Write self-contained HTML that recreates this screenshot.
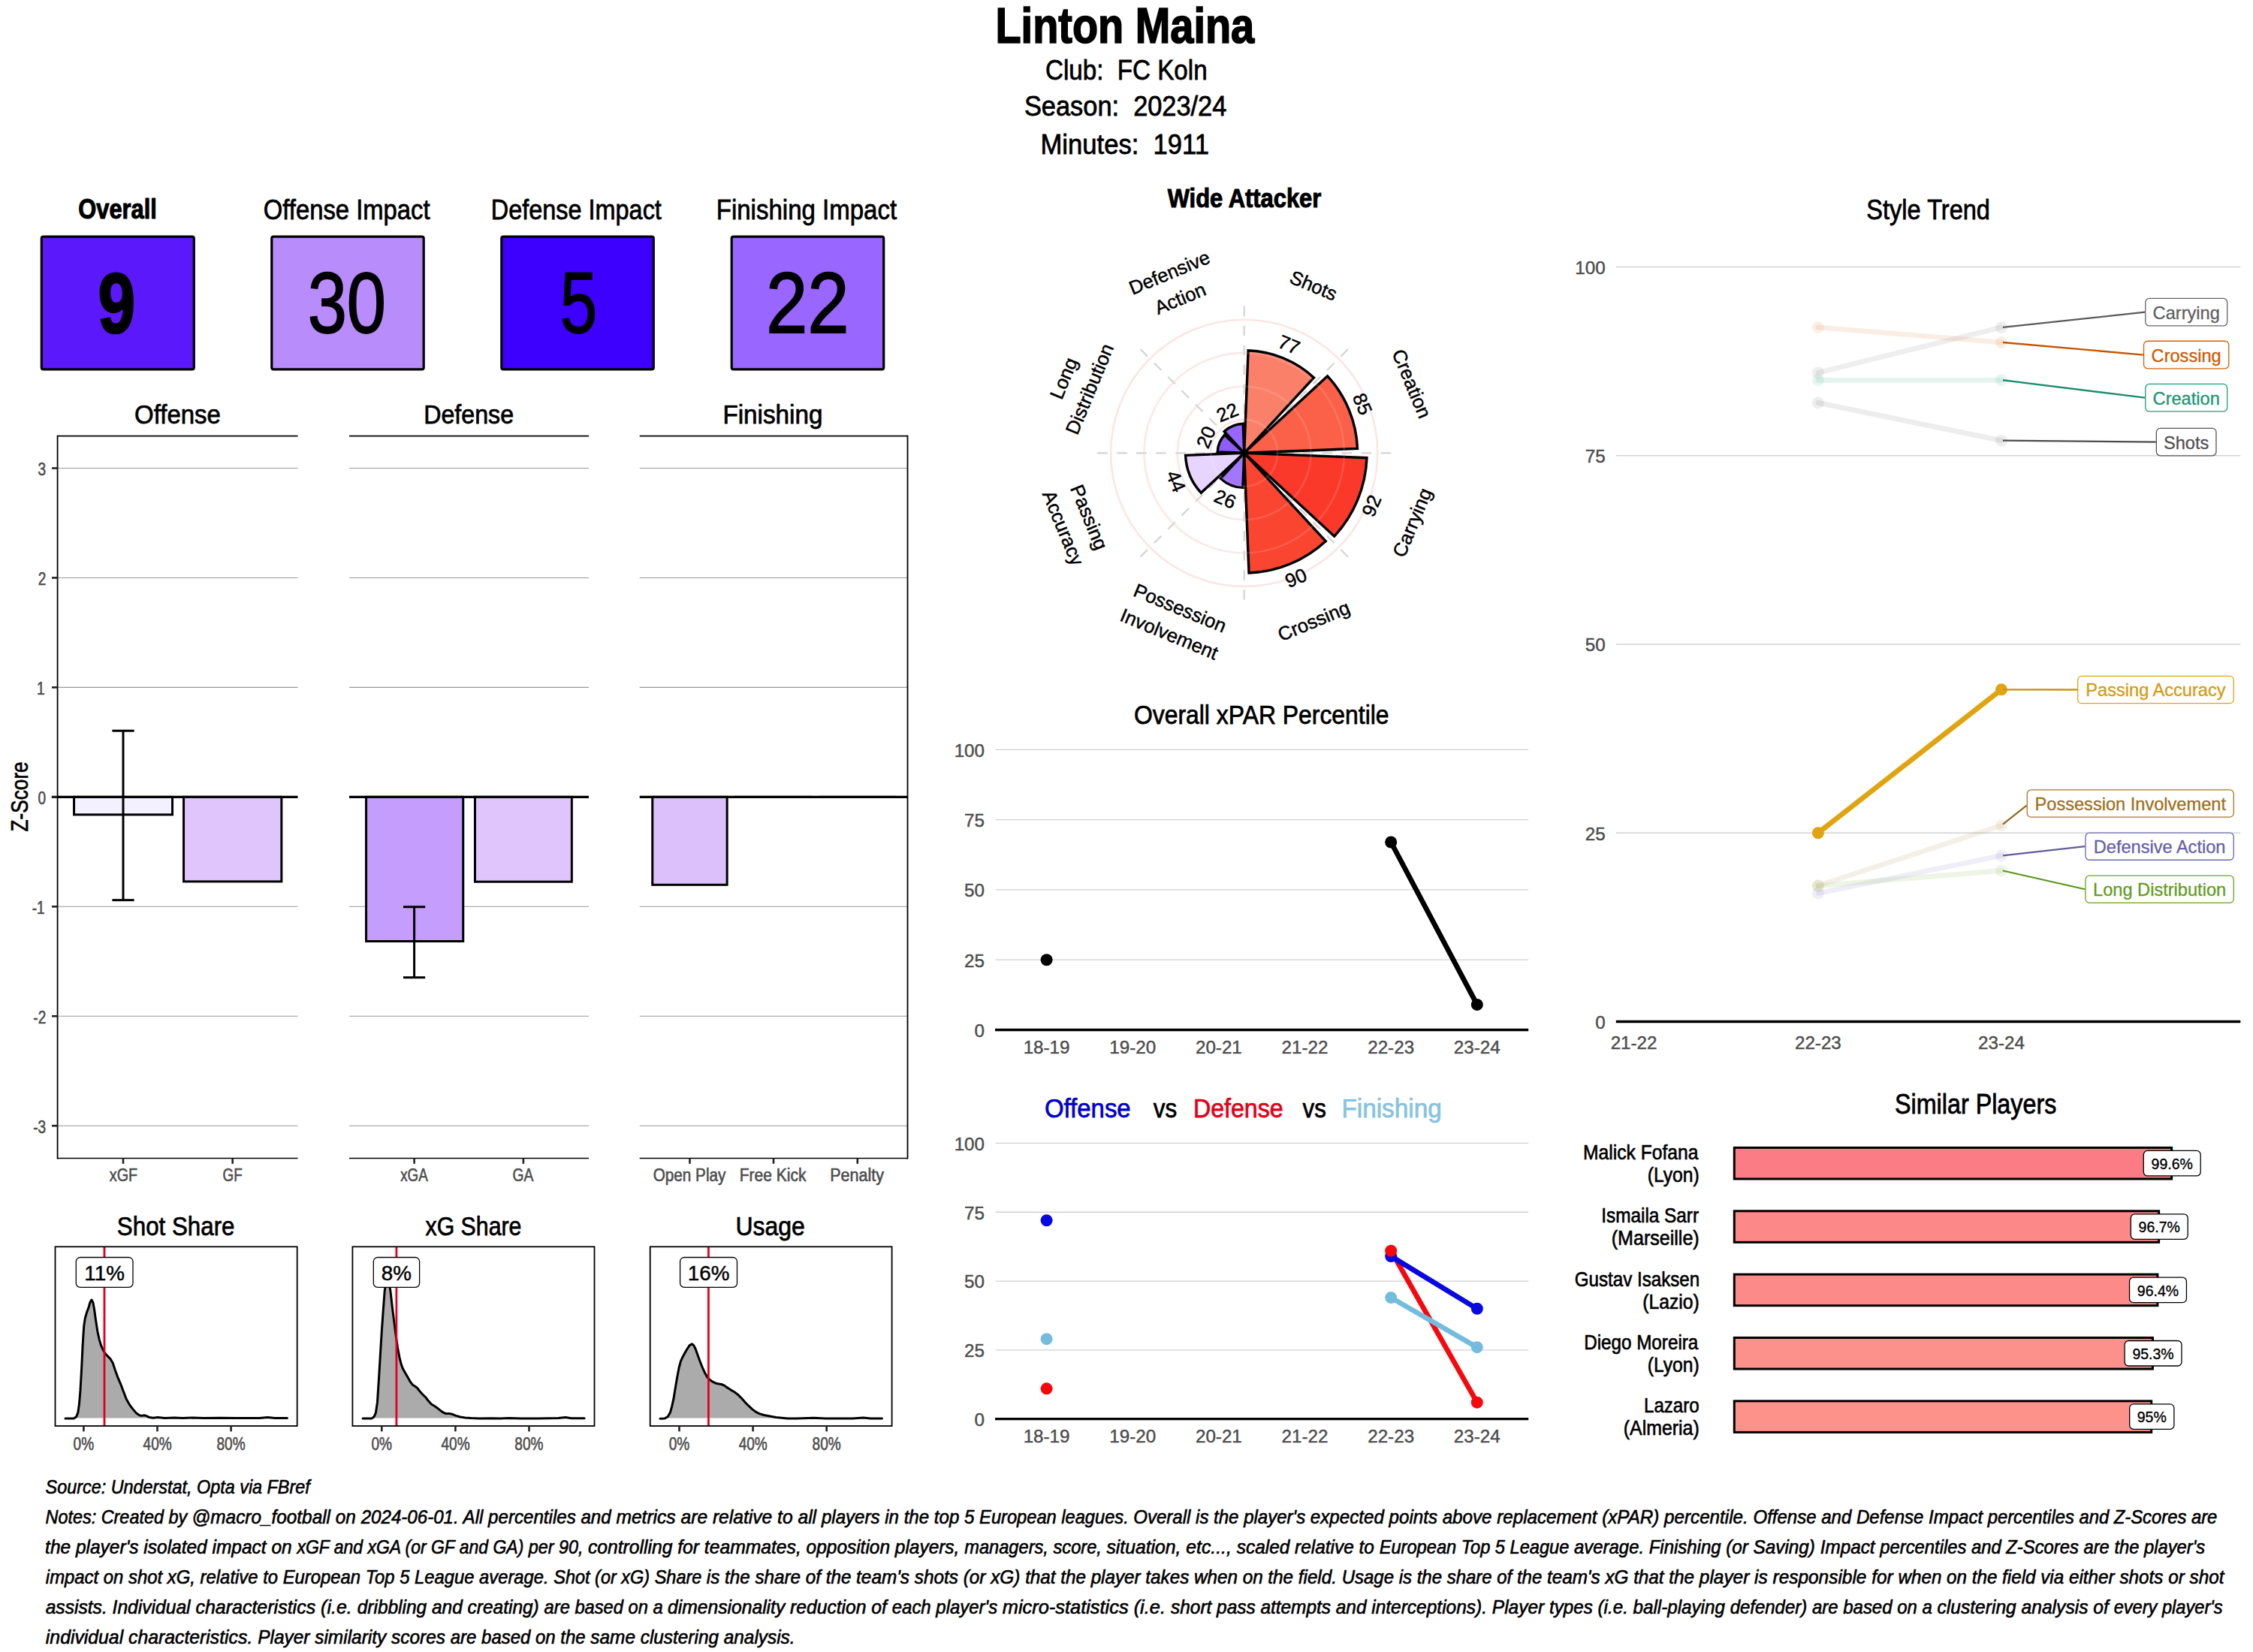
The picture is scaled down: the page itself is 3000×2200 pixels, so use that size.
<!DOCTYPE html>
<html><head><meta charset="utf-8"><title>Linton Maina</title>
<style>html,body{margin:0;padding:0;background:#fff}svg{display:block}text{font-family:"Liberation Sans",sans-serif;white-space:pre}</style>
</head><body>
<svg width="3000" height="2200" viewBox="0 0 3000 2200">
<rect width="3000" height="2200" fill="#fff"/>
<text x="1325.47" y="57.16" font-size="66.46" textLength="344.74" lengthAdjust="spacingAndGlyphs" fill="#000" stroke="#000" stroke-width="1.68" font-weight="bold">Linton Maina</text>
<text x="1392.03" y="105.61" font-size="36.67" textLength="215.56" lengthAdjust="spacingAndGlyphs" fill="#000" stroke="#000" stroke-width="0.77">Club:  FC Koln</text>
<text x="1363.94" y="154.11" font-size="36.67" textLength="269.42" lengthAdjust="spacingAndGlyphs" fill="#000" stroke="#000" stroke-width="0.77">Season:  2023/24</text>
<text x="1385.53" y="205.21" font-size="36.67" textLength="224.55" lengthAdjust="spacingAndGlyphs" fill="#000" stroke="#000" stroke-width="0.77">Minutes:  1911</text>
<text x="1554.72" y="276.48" font-size="35.27" textLength="204.54" lengthAdjust="spacingAndGlyphs" fill="#000" stroke="#000" stroke-width="1.04" font-weight="bold">Wide Attacker</text>
<rect x="55.30" y="315.10" width="203.00" height="176.80" fill="#5B18FB" stroke="#000" stroke-width="3.2" rx="2.5"/>
<text x="130.38" y="443.29" font-size="112.46" textLength="49.74" lengthAdjust="spacingAndGlyphs" fill="#000" stroke="#000" stroke-width="2.63" font-weight="bold">9</text>
<text x="104.29" y="291.47" font-size="36.26" textLength="104.57" lengthAdjust="spacingAndGlyphs" fill="#000" stroke="#000" stroke-width="1.06" font-weight="bold">Overall</text>
<rect x="361.80" y="315.10" width="202.40" height="176.80" fill="#B88CFB" stroke="#000" stroke-width="3.2" rx="2.5"/>
<text x="409.66" y="442.92" font-size="114.87" textLength="104.39" lengthAdjust="spacingAndGlyphs" fill="#000" stroke="#000" stroke-width="1.77">30</text>
<text x="350.83" y="291.61" font-size="36.67" textLength="221.75" lengthAdjust="spacingAndGlyphs" fill="#000" stroke="#000" stroke-width="0.77">Offense Impact</text>
<rect x="667.80" y="315.10" width="202.50" height="176.80" fill="#3D00FF" stroke="#000" stroke-width="3.2" rx="2.5"/>
<text x="745.72" y="442.92" font-size="114.87" textLength="49.57" lengthAdjust="spacingAndGlyphs" fill="#000" stroke="#000" stroke-width="1.77">5</text>
<text x="653.71" y="291.61" font-size="36.67" textLength="227.18" lengthAdjust="spacingAndGlyphs" fill="#000" stroke="#000" stroke-width="0.77">Defense Impact</text>
<rect x="974.20" y="315.10" width="202.50" height="176.80" fill="#9966FF" stroke="#000" stroke-width="3.2" rx="2.5"/>
<text x="1019.90" y="442.92" font-size="114.87" textLength="110.83" lengthAdjust="spacingAndGlyphs" fill="#000" stroke="#000" stroke-width="1.77">22</text>
<text x="953.76" y="291.61" font-size="36.67" textLength="240.33" lengthAdjust="spacingAndGlyphs" fill="#000" stroke="#000" stroke-width="0.77">Finishing Impact</text>
<line x1="76.60" y1="623.50" x2="396.50" y2="623.50" stroke="#999999" stroke-width="1.1"/>
<line x1="76.60" y1="769.45" x2="396.50" y2="769.45" stroke="#999999" stroke-width="1.1"/>
<line x1="76.60" y1="915.40" x2="396.50" y2="915.40" stroke="#999999" stroke-width="1.1"/>
<line x1="76.60" y1="1207.30" x2="396.50" y2="1207.30" stroke="#999999" stroke-width="1.1"/>
<line x1="76.60" y1="1353.25" x2="396.50" y2="1353.25" stroke="#999999" stroke-width="1.1"/>
<line x1="76.60" y1="1499.20" x2="396.50" y2="1499.20" stroke="#999999" stroke-width="1.1"/>
<line x1="465.00" y1="623.50" x2="784.00" y2="623.50" stroke="#999999" stroke-width="1.1"/>
<line x1="465.00" y1="769.45" x2="784.00" y2="769.45" stroke="#999999" stroke-width="1.1"/>
<line x1="465.00" y1="915.40" x2="784.00" y2="915.40" stroke="#999999" stroke-width="1.1"/>
<line x1="465.00" y1="1207.30" x2="784.00" y2="1207.30" stroke="#999999" stroke-width="1.1"/>
<line x1="465.00" y1="1353.25" x2="784.00" y2="1353.25" stroke="#999999" stroke-width="1.1"/>
<line x1="465.00" y1="1499.20" x2="784.00" y2="1499.20" stroke="#999999" stroke-width="1.1"/>
<line x1="851.70" y1="623.50" x2="1208.50" y2="623.50" stroke="#999999" stroke-width="1.1"/>
<line x1="851.70" y1="769.45" x2="1208.50" y2="769.45" stroke="#999999" stroke-width="1.1"/>
<line x1="851.70" y1="915.40" x2="1208.50" y2="915.40" stroke="#999999" stroke-width="1.1"/>
<line x1="851.70" y1="1207.30" x2="1208.50" y2="1207.30" stroke="#999999" stroke-width="1.1"/>
<line x1="851.70" y1="1353.25" x2="1208.50" y2="1353.25" stroke="#999999" stroke-width="1.1"/>
<line x1="851.70" y1="1499.20" x2="1208.50" y2="1499.20" stroke="#999999" stroke-width="1.1"/>
<rect x="98.55" y="1061.35" width="131.00" height="23.56" fill="#F3F0FF" stroke="#000" stroke-width="3"/>
<rect x="244.55" y="1061.35" width="130.30" height="112.59" fill="#DFC5FC" stroke="#000" stroke-width="3"/>
<rect x="487.55" y="1061.35" width="129.20" height="192.13" fill="#C59DFC" stroke="#000" stroke-width="3"/>
<rect x="632.45" y="1061.35" width="128.90" height="112.88" fill="#DFC5FC" stroke="#000" stroke-width="3"/>
<rect x="868.75" y="1061.35" width="99.40" height="116.97" fill="#DBC0FB" stroke="#000" stroke-width="3"/>
<rect x="979.75" y="1061.35" width="99.50" height="0.01" fill="#fff" stroke="#000" stroke-width="3"/>
<rect x="1091.75" y="1061.35" width="99.50" height="0.01" fill="#fff" stroke="#000" stroke-width="3"/>
<line x1="164.00" y1="973.20" x2="164.00" y2="1198.69" stroke="#000" stroke-width="3"/>
<line x1="149.40" y1="973.20" x2="178.60" y2="973.20" stroke="#000" stroke-width="3"/>
<line x1="149.40" y1="1198.69" x2="178.60" y2="1198.69" stroke="#000" stroke-width="3"/>
<line x1="551.60" y1="1207.74" x2="551.60" y2="1301.73" stroke="#000" stroke-width="3"/>
<line x1="537.00" y1="1207.74" x2="566.20" y2="1207.74" stroke="#000" stroke-width="3"/>
<line x1="537.00" y1="1301.73" x2="566.20" y2="1301.73" stroke="#000" stroke-width="3"/>
<line x1="68.80" y1="1061.35" x2="396.50" y2="1061.35" stroke="#000" stroke-width="3.4"/>
<line x1="76.60" y1="580.70" x2="396.50" y2="580.70" stroke="#000" stroke-width="1.7"/>
<line x1="76.60" y1="1542.50" x2="396.50" y2="1542.50" stroke="#000" stroke-width="1.7"/>
<line x1="465.00" y1="1061.35" x2="784.00" y2="1061.35" stroke="#000" stroke-width="3.4"/>
<line x1="465.00" y1="580.70" x2="784.00" y2="580.70" stroke="#000" stroke-width="1.7"/>
<line x1="465.00" y1="1542.50" x2="784.00" y2="1542.50" stroke="#000" stroke-width="1.7"/>
<line x1="851.70" y1="1061.35" x2="1208.50" y2="1061.35" stroke="#000" stroke-width="3.4"/>
<line x1="851.70" y1="580.70" x2="1208.50" y2="580.70" stroke="#000" stroke-width="1.7"/>
<line x1="851.70" y1="1542.50" x2="1208.50" y2="1542.50" stroke="#000" stroke-width="1.7"/>
<line x1="76.60" y1="579.80" x2="76.60" y2="1543.40" stroke="#000" stroke-width="1.8"/>
<line x1="1208.50" y1="579.80" x2="1208.50" y2="1543.40" stroke="#000" stroke-width="1.8"/>
<text x="179.11" y="564.33" font-size="34.53" textLength="114.77" lengthAdjust="spacingAndGlyphs" fill="#000" stroke="#000" stroke-width="0.75">Offense</text>
<text x="564.22" y="564.33" font-size="34.53" textLength="119.85" lengthAdjust="spacingAndGlyphs" fill="#000" stroke="#000" stroke-width="0.75">Defense</text>
<text x="962.43" y="564.33" font-size="34.53" textLength="133.05" lengthAdjust="spacingAndGlyphs" fill="#000" stroke="#000" stroke-width="0.75">Finishing</text>
<line x1="69.00" y1="623.50" x2="76.60" y2="623.50" stroke="#222" stroke-width="2.6"/>
<text x="50.53" y="632.80" font-size="23.82" textLength="10.60" lengthAdjust="spacingAndGlyphs" fill="#4D4D4D" stroke="#4D4D4D" stroke-width="0.61">3</text>
<line x1="69.00" y1="769.45" x2="76.60" y2="769.45" stroke="#222" stroke-width="2.6"/>
<text x="50.67" y="778.75" font-size="23.82" textLength="10.60" lengthAdjust="spacingAndGlyphs" fill="#4D4D4D" stroke="#4D4D4D" stroke-width="0.61">2</text>
<line x1="69.00" y1="915.40" x2="76.60" y2="915.40" stroke="#222" stroke-width="2.6"/>
<text x="49.02" y="924.70" font-size="23.82" textLength="10.60" lengthAdjust="spacingAndGlyphs" fill="#4D4D4D" stroke="#4D4D4D" stroke-width="0.61">1</text>
<line x1="69.00" y1="1061.35" x2="76.60" y2="1061.35" stroke="#222" stroke-width="2.6"/>
<text x="50.43" y="1070.65" font-size="23.82" textLength="10.60" lengthAdjust="spacingAndGlyphs" fill="#4D4D4D" stroke="#4D4D4D" stroke-width="0.61">0</text>
<line x1="69.00" y1="1207.30" x2="76.60" y2="1207.30" stroke="#222" stroke-width="2.6"/>
<text x="42.69" y="1216.60" font-size="23.82" textLength="16.95" lengthAdjust="spacingAndGlyphs" fill="#4D4D4D" stroke="#4D4D4D" stroke-width="0.61">-1</text>
<line x1="69.00" y1="1353.25" x2="76.60" y2="1353.25" stroke="#222" stroke-width="2.6"/>
<text x="44.33" y="1362.55" font-size="23.82" textLength="16.95" lengthAdjust="spacingAndGlyphs" fill="#4D4D4D" stroke="#4D4D4D" stroke-width="0.61">-2</text>
<line x1="69.00" y1="1499.20" x2="76.60" y2="1499.20" stroke="#222" stroke-width="2.6"/>
<text x="44.19" y="1508.50" font-size="23.82" textLength="16.95" lengthAdjust="spacingAndGlyphs" fill="#4D4D4D" stroke="#4D4D4D" stroke-width="0.61">-3</text>
<line x1="164.00" y1="1542.50" x2="164.00" y2="1549.80" stroke="#222" stroke-width="2.6"/>
<text x="145.76" y="1573.40" font-size="23.54" textLength="37.36" lengthAdjust="spacingAndGlyphs" fill="#4D4D4D" stroke="#4D4D4D" stroke-width="0.61">xGF</text>
<line x1="309.70" y1="1542.50" x2="309.70" y2="1549.80" stroke="#222" stroke-width="2.6"/>
<text x="296.54" y="1573.40" font-size="23.54" textLength="26.15" lengthAdjust="spacingAndGlyphs" fill="#4D4D4D" stroke="#4D4D4D" stroke-width="0.61">GF</text>
<line x1="551.60" y1="1542.50" x2="551.60" y2="1549.80" stroke="#222" stroke-width="2.6"/>
<text x="533.19" y="1573.40" font-size="23.54" textLength="36.62" lengthAdjust="spacingAndGlyphs" fill="#4D4D4D" stroke="#4D4D4D" stroke-width="0.61">xGA</text>
<line x1="696.90" y1="1542.50" x2="696.90" y2="1549.80" stroke="#222" stroke-width="2.6"/>
<text x="682.54" y="1573.40" font-size="23.54" textLength="27.80" lengthAdjust="spacingAndGlyphs" fill="#4D4D4D" stroke="#4D4D4D" stroke-width="0.61">GA</text>
<line x1="918.50" y1="1542.50" x2="918.50" y2="1549.80" stroke="#222" stroke-width="2.6"/>
<text x="869.72" y="1573.40" font-size="23.54" textLength="96.62" lengthAdjust="spacingAndGlyphs" fill="#4D4D4D" stroke="#4D4D4D" stroke-width="0.61">Open Play</text>
<line x1="1030.00" y1="1542.50" x2="1030.00" y2="1549.80" stroke="#222" stroke-width="2.6"/>
<text x="984.77" y="1573.40" font-size="23.54" textLength="88.64" lengthAdjust="spacingAndGlyphs" fill="#4D4D4D" stroke="#4D4D4D" stroke-width="0.61">Free Kick</text>
<line x1="1141.80" y1="1542.50" x2="1141.80" y2="1549.80" stroke="#222" stroke-width="2.6"/>
<text x="1105.23" y="1573.40" font-size="23.54" textLength="71.73" lengthAdjust="spacingAndGlyphs" fill="#4D4D4D" stroke="#4D4D4D" stroke-width="0.61">Penalty</text>
<text x="-46.40" y="-0.36" font-size="31.82" textLength="93.08" lengthAdjust="spacingAndGlyphs" fill="#000" stroke="#000" stroke-width="0.71" transform="translate(37.5,1061) rotate(-90)">Z-Score</text>
<path d="M87.0,1888.9 L98.3,1888.9 L101.5,1886.8 L103.8,1881.3 L105.4,1870.3 L107.0,1851.4 L108.6,1823.1 L110.1,1791.6 L111.7,1766.4 L113.3,1755.4 L115.6,1747.6 L118.0,1741.3 L120.0,1734.2 L121.9,1731.0 L123.8,1734.2 L125.4,1742.8 L127.4,1757.0 L129.8,1772.7 L132.2,1783.8 L134.5,1791.6 L137.7,1798.7 L140.8,1803.4 L144.0,1806.6 L147.1,1809.7 L150.3,1815.2 L153.4,1824.7 L156.5,1833.3 L160.5,1842.8 L164.4,1853.0 L168.3,1863.2 L172.3,1870.3 L177.0,1876.6 L181.7,1882.1 L185.7,1884.8 L188.8,1885.4 L192.0,1884.8 L195.1,1885.6 L199.0,1887.6 L203.8,1888.2 L210.0,1887.6 L219.5,1888.6 L232.1,1887.9 L243.1,1888.6 L255.7,1888.1 L271.4,1888.6 L293.4,1888.2 L313.9,1888.6 L345.4,1888.4 L356.4,1887.5 L365.8,1888.6 L382.4,1888.6 L382.4,1888.6 L87.0,1888.6 Z" fill="#ABABAB" stroke="none"/>
<path d="M87.0,1888.9 L98.3,1888.9 L101.5,1886.8 L103.8,1881.3 L105.4,1870.3 L107.0,1851.4 L108.6,1823.1 L110.1,1791.6 L111.7,1766.4 L113.3,1755.4 L115.6,1747.6 L118.0,1741.3 L120.0,1734.2 L121.9,1731.0 L123.8,1734.2 L125.4,1742.8 L127.4,1757.0 L129.8,1772.7 L132.2,1783.8 L134.5,1791.6 L137.7,1798.7 L140.8,1803.4 L144.0,1806.6 L147.1,1809.7 L150.3,1815.2 L153.4,1824.7 L156.5,1833.3 L160.5,1842.8 L164.4,1853.0 L168.3,1863.2 L172.3,1870.3 L177.0,1876.6 L181.7,1882.1 L185.7,1884.8 L188.8,1885.4 L192.0,1884.8 L195.1,1885.6 L199.0,1887.6 L203.8,1888.2 L210.0,1887.6 L219.5,1888.6 L232.1,1887.9 L243.1,1888.6 L255.7,1888.1 L271.4,1888.6 L293.4,1888.2 L313.9,1888.6 L345.4,1888.4 L356.4,1887.5 L365.8,1888.6 L382.4,1888.6" fill="none" stroke="#000" stroke-width="3" stroke-linejoin="round" stroke-linecap="round"/>
<line x1="139.00" y1="1660.30" x2="139.00" y2="1899.00" stroke="#E0001B" stroke-width="2.8"/>
<rect x="73.50" y="1660.30" width="322.20" height="238.70" fill="none" stroke="#000" stroke-width="1.8"/>
<rect x="101.30" y="1674.50" width="75.70" height="39.90" fill="#fff" stroke="#000" stroke-width="1.3" rx="5.5"/>
<text x="139.15" y="1705.10" font-size="27.80" fill="#000" stroke="#000" stroke-width="0.45" text-anchor="middle">11%</text>
<text x="155.87" y="1644.62" font-size="35.24" textLength="156.62" lengthAdjust="spacingAndGlyphs" fill="#000" stroke="#000" stroke-width="0.75">Shot Share</text>
<line x1="111.40" y1="1899.00" x2="111.40" y2="1906.30" stroke="#222" stroke-width="2.6"/>
<text x="97.58" y="1931.10" font-size="23.82" textLength="27.55" lengthAdjust="spacingAndGlyphs" fill="#4D4D4D" stroke="#4D4D4D" stroke-width="0.61">0%</text>
<line x1="209.50" y1="1899.00" x2="209.50" y2="1906.30" stroke="#222" stroke-width="2.6"/>
<text x="190.54" y="1931.10" font-size="23.82" textLength="38.15" lengthAdjust="spacingAndGlyphs" fill="#4D4D4D" stroke="#4D4D4D" stroke-width="0.61">40%</text>
<line x1="307.60" y1="1899.00" x2="307.60" y2="1906.30" stroke="#222" stroke-width="2.6"/>
<text x="288.45" y="1931.10" font-size="23.82" textLength="38.15" lengthAdjust="spacingAndGlyphs" fill="#4D4D4D" stroke="#4D4D4D" stroke-width="0.61">80%</text>
<path d="M483.1,1888.9 L494.9,1888.9 L498.0,1886.8 L500.4,1881.3 L502.5,1867.2 L504.3,1838.8 L506.2,1807.4 L508.3,1772.7 L510.3,1744.4 L512.2,1719.2 L514.1,1706.6 L516.1,1701.9 L518.2,1708.2 L520.1,1720.8 L522.4,1741.3 L524.8,1760.1 L527.2,1779.0 L529.5,1794.8 L531.9,1807.4 L534.2,1816.8 L536.6,1823.1 L539.7,1828.6 L542.9,1834.1 L546.0,1839.6 L549.2,1843.9 L552.3,1845.9 L555.5,1848.3 L558.6,1852.2 L562.6,1856.9 L566.5,1860.5 L570.4,1865.6 L574.4,1870.0 L578.3,1872.2 L582.2,1875.0 L586.2,1878.2 L590.1,1881.0 L594.0,1882.6 L598.0,1882.4 L601.9,1883.2 L606.6,1885.1 L612.9,1887.0 L619.2,1887.9 L627.1,1888.6 L638.1,1889.0 L653.8,1888.7 L666.4,1889.0 L677.4,1888.6 L693.2,1888.9 L716.8,1888.9 L743.5,1888.6 L753.0,1887.5 L760.8,1888.7 L778.1,1888.7 L778.1,1888.6 L483.1,1888.6 Z" fill="#ABABAB" stroke="none"/>
<path d="M483.1,1888.9 L494.9,1888.9 L498.0,1886.8 L500.4,1881.3 L502.5,1867.2 L504.3,1838.8 L506.2,1807.4 L508.3,1772.7 L510.3,1744.4 L512.2,1719.2 L514.1,1706.6 L516.1,1701.9 L518.2,1708.2 L520.1,1720.8 L522.4,1741.3 L524.8,1760.1 L527.2,1779.0 L529.5,1794.8 L531.9,1807.4 L534.2,1816.8 L536.6,1823.1 L539.7,1828.6 L542.9,1834.1 L546.0,1839.6 L549.2,1843.9 L552.3,1845.9 L555.5,1848.3 L558.6,1852.2 L562.6,1856.9 L566.5,1860.5 L570.4,1865.6 L574.4,1870.0 L578.3,1872.2 L582.2,1875.0 L586.2,1878.2 L590.1,1881.0 L594.0,1882.6 L598.0,1882.4 L601.9,1883.2 L606.6,1885.1 L612.9,1887.0 L619.2,1887.9 L627.1,1888.6 L638.1,1889.0 L653.8,1888.7 L666.4,1889.0 L677.4,1888.6 L693.2,1888.9 L716.8,1888.9 L743.5,1888.6 L753.0,1887.5 L760.8,1888.7 L778.1,1888.7" fill="none" stroke="#000" stroke-width="3" stroke-linejoin="round" stroke-linecap="round"/>
<line x1="527.90" y1="1660.30" x2="527.90" y2="1899.00" stroke="#E0001B" stroke-width="2.8"/>
<rect x="469.40" y="1660.30" width="322.10" height="238.70" fill="none" stroke="#000" stroke-width="1.8"/>
<rect x="497.30" y="1674.50" width="61.30" height="39.90" fill="#fff" stroke="#000" stroke-width="1.3" rx="5.5"/>
<text x="527.95" y="1705.10" font-size="27.80" fill="#000" stroke="#000" stroke-width="0.45" text-anchor="middle">8%</text>
<text x="566.50" y="1644.62" font-size="35.24" textLength="127.96" lengthAdjust="spacingAndGlyphs" fill="#000" stroke="#000" stroke-width="0.75">xG Share</text>
<line x1="508.30" y1="1899.00" x2="508.30" y2="1906.30" stroke="#222" stroke-width="2.6"/>
<text x="494.48" y="1931.10" font-size="23.82" textLength="27.55" lengthAdjust="spacingAndGlyphs" fill="#4D4D4D" stroke="#4D4D4D" stroke-width="0.61">0%</text>
<line x1="606.40" y1="1899.00" x2="606.40" y2="1906.30" stroke="#222" stroke-width="2.6"/>
<text x="587.44" y="1931.10" font-size="23.82" textLength="38.15" lengthAdjust="spacingAndGlyphs" fill="#4D4D4D" stroke="#4D4D4D" stroke-width="0.61">40%</text>
<line x1="704.50" y1="1899.00" x2="704.50" y2="1906.30" stroke="#222" stroke-width="2.6"/>
<text x="685.35" y="1931.10" font-size="23.82" textLength="38.15" lengthAdjust="spacingAndGlyphs" fill="#4D4D4D" stroke="#4D4D4D" stroke-width="0.61">80%</text>
<path d="M878.9,1889.2 L885.2,1888.9 L889.1,1886.8 L892.3,1881.3 L894.6,1873.4 L897.0,1862.4 L899.3,1848.3 L901.7,1834.1 L904.1,1821.5 L906.4,1812.9 L908.8,1807.4 L911.9,1801.8 L915.1,1796.3 L918.2,1791.6 L921.4,1789.7 L923.7,1791.6 L926.1,1796.3 L929.2,1805.0 L932.4,1813.7 L935.5,1821.5 L938.7,1828.6 L941.8,1834.1 L945.0,1837.3 L948.1,1839.6 L952.1,1841.7 L956.0,1842.8 L960.7,1843.5 L963.9,1844.8 L968.6,1848.0 L973.3,1851.1 L978.0,1853.8 L982.7,1857.4 L987.5,1862.1 L992.2,1867.5 L996.9,1872.2 L1001.6,1876.6 L1006.3,1880.1 L1011.1,1882.6 L1017.4,1884.5 L1025.2,1886.0 L1033.1,1887.5 L1041.0,1888.2 L1048.8,1888.9 L1061.4,1888.9 L1083.4,1888.2 L1099.2,1888.9 L1135.4,1888.9 L1149.5,1887.9 L1159.0,1888.9 L1174.4,1888.9 L1174.4,1888.6 L878.9,1888.6 Z" fill="#ABABAB" stroke="none"/>
<path d="M878.9,1889.2 L885.2,1888.9 L889.1,1886.8 L892.3,1881.3 L894.6,1873.4 L897.0,1862.4 L899.3,1848.3 L901.7,1834.1 L904.1,1821.5 L906.4,1812.9 L908.8,1807.4 L911.9,1801.8 L915.1,1796.3 L918.2,1791.6 L921.4,1789.7 L923.7,1791.6 L926.1,1796.3 L929.2,1805.0 L932.4,1813.7 L935.5,1821.5 L938.7,1828.6 L941.8,1834.1 L945.0,1837.3 L948.1,1839.6 L952.1,1841.7 L956.0,1842.8 L960.7,1843.5 L963.9,1844.8 L968.6,1848.0 L973.3,1851.1 L978.0,1853.8 L982.7,1857.4 L987.5,1862.1 L992.2,1867.5 L996.9,1872.2 L1001.6,1876.6 L1006.3,1880.1 L1011.1,1882.6 L1017.4,1884.5 L1025.2,1886.0 L1033.1,1887.5 L1041.0,1888.2 L1048.8,1888.9 L1061.4,1888.9 L1083.4,1888.2 L1099.2,1888.9 L1135.4,1888.9 L1149.5,1887.9 L1159.0,1888.9 L1174.4,1888.9" fill="none" stroke="#000" stroke-width="3" stroke-linejoin="round" stroke-linecap="round"/>
<line x1="943.40" y1="1660.30" x2="943.40" y2="1899.00" stroke="#E0001B" stroke-width="2.8"/>
<rect x="865.70" y="1660.30" width="321.90" height="238.70" fill="none" stroke="#000" stroke-width="1.8"/>
<rect x="905.60" y="1674.50" width="75.90" height="39.90" fill="#fff" stroke="#000" stroke-width="1.3" rx="5.5"/>
<text x="943.55" y="1705.10" font-size="27.80" fill="#000" stroke="#000" stroke-width="0.45" text-anchor="middle">16%</text>
<text x="979.50" y="1644.62" font-size="35.24" textLength="92.40" lengthAdjust="spacingAndGlyphs" fill="#000" stroke="#000" stroke-width="0.75">Usage</text>
<line x1="904.50" y1="1899.00" x2="904.50" y2="1906.30" stroke="#222" stroke-width="2.6"/>
<text x="890.68" y="1931.10" font-size="23.82" textLength="27.55" lengthAdjust="spacingAndGlyphs" fill="#4D4D4D" stroke="#4D4D4D" stroke-width="0.61">0%</text>
<line x1="1002.60" y1="1899.00" x2="1002.60" y2="1906.30" stroke="#222" stroke-width="2.6"/>
<text x="983.64" y="1931.10" font-size="23.82" textLength="38.15" lengthAdjust="spacingAndGlyphs" fill="#4D4D4D" stroke="#4D4D4D" stroke-width="0.61">40%</text>
<line x1="1100.70" y1="1899.00" x2="1100.70" y2="1906.30" stroke="#222" stroke-width="2.6"/>
<text x="1081.55" y="1931.10" font-size="23.82" textLength="38.15" lengthAdjust="spacingAndGlyphs" fill="#4D4D4D" stroke="#4D4D4D" stroke-width="0.61">80%</text>
<circle cx="1656.7" cy="603.3" r="44.4" fill="none" stroke="#FAE6E6" stroke-width="2.6"/>
<circle cx="1656.7" cy="603.3" r="88.8" fill="none" stroke="#FAE6E6" stroke-width="2.6"/>
<circle cx="1656.7" cy="603.3" r="133.2" fill="none" stroke="#FAE6E6" stroke-width="2.6"/>
<circle cx="1656.7" cy="603.3" r="177.6" fill="none" stroke="#FAE6E6" stroke-width="2.6"/>
<line x1="1656.70" y1="603.30" x2="1656.70" y2="403.30" stroke="#D4D4D4" stroke-width="2.2" stroke-dasharray="13.5,12.5"/>
<line x1="1656.70" y1="603.30" x2="1798.12" y2="461.88" stroke="#D4D4D4" stroke-width="2.2" stroke-dasharray="13.5,12.5"/>
<line x1="1656.70" y1="603.30" x2="1856.70" y2="603.30" stroke="#D4D4D4" stroke-width="2.2" stroke-dasharray="13.5,12.5"/>
<line x1="1656.70" y1="603.30" x2="1798.12" y2="744.72" stroke="#D4D4D4" stroke-width="2.2" stroke-dasharray="13.5,12.5"/>
<line x1="1656.70" y1="603.30" x2="1656.70" y2="803.30" stroke="#D4D4D4" stroke-width="2.2" stroke-dasharray="13.5,12.5"/>
<line x1="1656.70" y1="603.30" x2="1515.28" y2="744.72" stroke="#D4D4D4" stroke-width="2.2" stroke-dasharray="13.5,12.5"/>
<line x1="1656.70" y1="603.30" x2="1456.70" y2="603.30" stroke="#D4D4D4" stroke-width="2.2" stroke-dasharray="13.5,12.5"/>
<line x1="1656.70" y1="603.30" x2="1515.28" y2="461.88" stroke="#D4D4D4" stroke-width="2.2" stroke-dasharray="13.5,12.5"/>
<path d="M1656.7,603.3 L1662.1,466.7 A136.8,136.8 0 0 1 1749.5,502.9 Z" fill="#FB8069" stroke="#000" stroke-width="3.4" stroke-linejoin="miter"/>
<path d="M1656.7,603.3 L1767.6,500.8 A151.0,151.0 0 0 1 1807.5,597.4 Z" fill="#FB6048" stroke="#000" stroke-width="3.4" stroke-linejoin="miter"/>
<path d="M1656.7,603.3 L1820.0,609.7 A163.4,163.4 0 0 1 1776.7,714.2 Z" fill="#FA392A" stroke="#000" stroke-width="3.4" stroke-linejoin="miter"/>
<path d="M1656.7,603.3 L1765.2,720.7 A159.8,159.8 0 0 1 1663.0,763.0 Z" fill="#FA4530" stroke="#000" stroke-width="3.4" stroke-linejoin="miter"/>
<path d="M1656.7,603.3 L1654.9,649.4 A46.2,46.2 0 0 1 1625.4,637.2 Z" fill="#A377FB" stroke="#000" stroke-width="3.4" stroke-linejoin="miter"/>
<path d="M1656.7,603.3 L1599.3,656.3 A78.1,78.1 0 0 1 1578.6,606.4 Z" fill="#E8D5FD" stroke="#000" stroke-width="3.4" stroke-linejoin="miter"/>
<path d="M1656.7,603.3 L1621.2,601.9 A35.5,35.5 0 0 1 1630.6,579.2 Z" fill="#8F5CFA" stroke="#000" stroke-width="3.4" stroke-linejoin="miter"/>
<path d="M1656.7,603.3 L1630.2,574.6 A39.1,39.1 0 0 1 1655.2,564.3 Z" fill="#9966FF" stroke="#000" stroke-width="3.4" stroke-linejoin="miter"/>
<circle cx="1656.7" cy="603.3" r="44.4" fill="none" stroke="#fff" stroke-opacity="0.13" stroke-width="2.6"/>
<circle cx="1656.7" cy="603.3" r="88.8" fill="none" stroke="#fff" stroke-opacity="0.13" stroke-width="2.6"/>
<circle cx="1656.7" cy="603.3" r="133.2" fill="none" stroke="#fff" stroke-opacity="0.13" stroke-width="2.6"/>
<text x="0.00" y="9.20" font-size="25.60" fill="#000" stroke="#000" stroke-width="0.45" text-anchor="middle" transform="translate(1716.6,458.7) rotate(22.5)">77</text>
<text x="0.00" y="9.20" font-size="25.60" fill="#000" stroke="#000" stroke-width="0.45" text-anchor="middle" transform="translate(1749.2,379.9) rotate(22.5)">Shots</text>
<text x="0.00" y="9.20" font-size="25.60" fill="#000" stroke="#000" stroke-width="0.45" text-anchor="middle" transform="translate(1814.5,538.0) rotate(67.5)">85</text>
<text x="0.00" y="9.20" font-size="25.60" fill="#000" stroke="#000" stroke-width="0.45" text-anchor="middle" transform="translate(1880.1,510.8) rotate(67.5)">Creation</text>
<text x="0.00" y="9.20" font-size="25.60" fill="#000" stroke="#000" stroke-width="0.45" text-anchor="middle" transform="translate(1825.9,673.4) rotate(-67.5)">92</text>
<text x="0.00" y="9.20" font-size="25.60" fill="#000" stroke="#000" stroke-width="0.45" text-anchor="middle" transform="translate(1880.1,695.8) rotate(-67.5)">Carrying</text>
<text x="0.00" y="9.20" font-size="25.60" fill="#000" stroke="#000" stroke-width="0.45" text-anchor="middle" transform="translate(1725.4,769.3) rotate(-22.5)">90</text>
<text x="0.00" y="9.20" font-size="25.60" fill="#000" stroke="#000" stroke-width="0.45" text-anchor="middle" transform="translate(1749.2,826.7) rotate(-22.5)">Crossing</text>
<text x="0.00" y="9.20" font-size="25.60" fill="#000" stroke="#000" stroke-width="0.45" text-anchor="middle" transform="translate(1631.5,664.3) rotate(22.5)">26</text>
<text x="0.00" y="-9.50" font-size="25.60" fill="#000" stroke="#000" stroke-width="0.45" text-anchor="middle" transform="translate(1564.2,826.7) rotate(22.5)">Possession</text>
<text x="0.00" y="27.90" font-size="25.60" fill="#000" stroke="#000" stroke-width="0.45" text-anchor="middle" transform="translate(1564.2,826.7) rotate(22.5)">Involvement</text>
<text x="0.00" y="9.20" font-size="25.60" fill="#000" stroke="#000" stroke-width="0.45" text-anchor="middle" transform="translate(1566.2,640.8) rotate(67.5)">44</text>
<text x="0.00" y="-9.50" font-size="25.60" fill="#000" stroke="#000" stroke-width="0.45" text-anchor="middle" transform="translate(1433.3,695.8) rotate(67.5)">Passing</text>
<text x="0.00" y="27.90" font-size="25.60" fill="#000" stroke="#000" stroke-width="0.45" text-anchor="middle" transform="translate(1433.3,695.8) rotate(67.5)">Accuracy</text>
<text x="0.00" y="9.20" font-size="25.60" fill="#000" stroke="#000" stroke-width="0.45" text-anchor="middle" transform="translate(1605.6,582.1) rotate(-67.5)">20</text>
<text x="0.00" y="-9.50" font-size="25.60" fill="#000" stroke="#000" stroke-width="0.45" text-anchor="middle" transform="translate(1433.3,510.8) rotate(-67.5)">Long</text>
<text x="0.00" y="27.90" font-size="25.60" fill="#000" stroke="#000" stroke-width="0.45" text-anchor="middle" transform="translate(1433.3,510.8) rotate(-67.5)">Distribution</text>
<text x="0.00" y="9.20" font-size="25.60" fill="#000" stroke="#000" stroke-width="0.45" text-anchor="middle" transform="translate(1634.2,548.9) rotate(-22.5)">22</text>
<text x="0.00" y="-9.50" font-size="25.60" fill="#000" stroke="#000" stroke-width="0.45" text-anchor="middle" transform="translate(1564.2,379.9) rotate(-22.5)">Defensive</text>
<text x="0.00" y="27.90" font-size="25.60" fill="#000" stroke="#000" stroke-width="0.45" text-anchor="middle" transform="translate(1564.2,379.9) rotate(-22.5)">Action</text>
<line x1="1325.50" y1="1278.22" x2="2035.20" y2="1278.22" stroke="#D2D2D2" stroke-width="1.3"/>
<line x1="1325.50" y1="1184.95" x2="2035.20" y2="1184.95" stroke="#D2D2D2" stroke-width="1.3"/>
<line x1="1325.50" y1="1091.67" x2="2035.20" y2="1091.67" stroke="#D2D2D2" stroke-width="1.3"/>
<line x1="1325.50" y1="998.40" x2="2035.20" y2="998.40" stroke="#D2D2D2" stroke-width="1.3"/>
<text x="1311.00" y="1380.90" font-size="24.20" fill="#4D4D4D" stroke="#4D4D4D" stroke-width="0.45" text-anchor="end">0</text>
<text x="1311.00" y="1287.62" font-size="24.20" fill="#4D4D4D" stroke="#4D4D4D" stroke-width="0.45" text-anchor="end">25</text>
<text x="1311.00" y="1194.35" font-size="24.20" fill="#4D4D4D" stroke="#4D4D4D" stroke-width="0.45" text-anchor="end">50</text>
<text x="1311.00" y="1101.08" font-size="24.20" fill="#4D4D4D" stroke="#4D4D4D" stroke-width="0.45" text-anchor="end">75</text>
<text x="1311.00" y="1007.80" font-size="24.20" fill="#4D4D4D" stroke="#4D4D4D" stroke-width="0.45" text-anchor="end">100</text>
<text x="1393.60" y="1403.30" font-size="24.20" fill="#4D4D4D" stroke="#4D4D4D" stroke-width="0.45" text-anchor="middle">18-19</text>
<text x="1508.24" y="1403.30" font-size="24.20" fill="#4D4D4D" stroke="#4D4D4D" stroke-width="0.45" text-anchor="middle">19-20</text>
<text x="1622.88" y="1403.30" font-size="24.20" fill="#4D4D4D" stroke="#4D4D4D" stroke-width="0.45" text-anchor="middle">20-21</text>
<text x="1737.52" y="1403.30" font-size="24.20" fill="#4D4D4D" stroke="#4D4D4D" stroke-width="0.45" text-anchor="middle">21-22</text>
<text x="1852.16" y="1403.30" font-size="24.20" fill="#4D4D4D" stroke="#4D4D4D" stroke-width="0.45" text-anchor="middle">22-23</text>
<text x="1966.80" y="1403.30" font-size="24.20" fill="#4D4D4D" stroke="#4D4D4D" stroke-width="0.45" text-anchor="middle">23-24</text>
<text x="1509.96" y="964.22" font-size="34.96" textLength="339.59" lengthAdjust="spacingAndGlyphs" fill="#000" stroke="#000" stroke-width="0.75">Overall xPAR Percentile</text>
<line x1="1852.16" y1="1121.52" x2="1966.80" y2="1337.92" stroke="#000" stroke-width="6.8" stroke-linecap="round"/>
<circle cx="1393.60" cy="1278.22" r="8" fill="#000"/>
<circle cx="1852.16" cy="1121.52" r="8" fill="#000"/>
<circle cx="1966.80" cy="1337.92" r="8" fill="#000"/>
<line x1="1325.00" y1="1371.50" x2="2035.20" y2="1371.50" stroke="#000" stroke-width="3.3"/>
<line x1="1325.50" y1="1797.88" x2="2035.20" y2="1797.88" stroke="#D2D2D2" stroke-width="1.3"/>
<line x1="1325.50" y1="1706.05" x2="2035.20" y2="1706.05" stroke="#D2D2D2" stroke-width="1.3"/>
<line x1="1325.50" y1="1614.23" x2="2035.20" y2="1614.23" stroke="#D2D2D2" stroke-width="1.3"/>
<line x1="1325.50" y1="1522.40" x2="2035.20" y2="1522.40" stroke="#D2D2D2" stroke-width="1.3"/>
<text x="1311.00" y="1899.10" font-size="24.20" fill="#4D4D4D" stroke="#4D4D4D" stroke-width="0.45" text-anchor="end">0</text>
<text x="1311.00" y="1807.28" font-size="24.20" fill="#4D4D4D" stroke="#4D4D4D" stroke-width="0.45" text-anchor="end">25</text>
<text x="1311.00" y="1715.45" font-size="24.20" fill="#4D4D4D" stroke="#4D4D4D" stroke-width="0.45" text-anchor="end">50</text>
<text x="1311.00" y="1623.63" font-size="24.20" fill="#4D4D4D" stroke="#4D4D4D" stroke-width="0.45" text-anchor="end">75</text>
<text x="1311.00" y="1531.80" font-size="24.20" fill="#4D4D4D" stroke="#4D4D4D" stroke-width="0.45" text-anchor="end">100</text>
<text x="1393.60" y="1920.90" font-size="24.20" fill="#4D4D4D" stroke="#4D4D4D" stroke-width="0.45" text-anchor="middle">18-19</text>
<text x="1508.24" y="1920.90" font-size="24.20" fill="#4D4D4D" stroke="#4D4D4D" stroke-width="0.45" text-anchor="middle">19-20</text>
<text x="1622.88" y="1920.90" font-size="24.20" fill="#4D4D4D" stroke="#4D4D4D" stroke-width="0.45" text-anchor="middle">20-21</text>
<text x="1737.52" y="1920.90" font-size="24.20" fill="#4D4D4D" stroke="#4D4D4D" stroke-width="0.45" text-anchor="middle">21-22</text>
<text x="1852.16" y="1920.90" font-size="24.20" fill="#4D4D4D" stroke="#4D4D4D" stroke-width="0.45" text-anchor="middle">22-23</text>
<text x="1966.80" y="1920.90" font-size="24.20" fill="#4D4D4D" stroke="#4D4D4D" stroke-width="0.45" text-anchor="middle">23-24</text>
<text x="1390.91" y="1487.83" font-size="34.53" textLength="114.77" lengthAdjust="spacingAndGlyphs" fill="#0000CD" stroke="#0000CD" stroke-width="0.75">Offense</text>
<text x="1535.79" y="1487.83" font-size="34.53" textLength="31.43" lengthAdjust="spacingAndGlyphs" fill="#000" stroke="#000" stroke-width="0.75">vs</text>
<text x="1588.92" y="1487.83" font-size="34.53" textLength="119.85" lengthAdjust="spacingAndGlyphs" fill="#E3001B" stroke="#E3001B" stroke-width="0.75">Defense</text>
<text x="1734.59" y="1487.83" font-size="34.53" textLength="31.33" lengthAdjust="spacingAndGlyphs" fill="#000" stroke="#000" stroke-width="0.75">vs</text>
<text x="1786.42" y="1487.83" font-size="34.53" textLength="133.36" lengthAdjust="spacingAndGlyphs" fill="#87C3E0" stroke="#87C3E0" stroke-width="0.75">Finishing</text>
<line x1="1852.16" y1="1665.65" x2="1966.80" y2="1867.66" stroke="#F5080E" stroke-width="6.8" stroke-linecap="round"/>
<line x1="1852.16" y1="1672.99" x2="1966.80" y2="1742.78" stroke="#0808E0" stroke-width="6.8" stroke-linecap="round"/>
<line x1="1852.16" y1="1728.09" x2="1966.80" y2="1794.20" stroke="#74BCDE" stroke-width="6.8" stroke-linecap="round"/>
<circle cx="1393.60" cy="1625.24" r="8" fill="#0808E0"/>
<circle cx="1852.16" cy="1672.99" r="8" fill="#0808E0"/>
<circle cx="1966.80" cy="1742.78" r="8" fill="#0808E0"/>
<circle cx="1393.60" cy="1849.30" r="8" fill="#F5080E"/>
<circle cx="1852.16" cy="1665.65" r="8" fill="#F5080E"/>
<circle cx="1966.80" cy="1867.66" r="8" fill="#F5080E"/>
<circle cx="1393.60" cy="1783.18" r="8" fill="#74BCDE"/>
<circle cx="1852.16" cy="1728.09" r="8" fill="#74BCDE"/>
<circle cx="1966.80" cy="1794.20" r="8" fill="#74BCDE"/>
<line x1="1325.00" y1="1889.70" x2="2035.20" y2="1889.70" stroke="#000" stroke-width="3.3"/>
<text x="2485.32" y="291.81" font-size="37.10" textLength="164.65" lengthAdjust="spacingAndGlyphs" fill="#000" stroke="#000" stroke-width="0.78">Style Trend</text>
<line x1="2151.80" y1="1109.25" x2="2983.30" y2="1109.25" stroke="#D2D2D2" stroke-width="1.3"/>
<line x1="2151.80" y1="858.00" x2="2983.30" y2="858.00" stroke="#D2D2D2" stroke-width="1.3"/>
<line x1="2151.80" y1="606.75" x2="2983.30" y2="606.75" stroke="#D2D2D2" stroke-width="1.3"/>
<line x1="2151.80" y1="355.50" x2="2983.30" y2="355.50" stroke="#D2D2D2" stroke-width="1.3"/>
<text x="2137.60" y="1369.90" font-size="24.20" fill="#4D4D4D" stroke="#4D4D4D" stroke-width="0.45" text-anchor="end">0</text>
<text x="2137.60" y="1118.65" font-size="24.20" fill="#4D4D4D" stroke="#4D4D4D" stroke-width="0.45" text-anchor="end">25</text>
<text x="2137.60" y="867.40" font-size="24.20" fill="#4D4D4D" stroke="#4D4D4D" stroke-width="0.45" text-anchor="end">50</text>
<text x="2137.60" y="616.15" font-size="24.20" fill="#4D4D4D" stroke="#4D4D4D" stroke-width="0.45" text-anchor="end">75</text>
<text x="2137.60" y="364.90" font-size="24.20" fill="#4D4D4D" stroke="#4D4D4D" stroke-width="0.45" text-anchor="end">100</text>
<text x="2175.60" y="1396.80" font-size="24.20" fill="#4D4D4D" stroke="#4D4D4D" stroke-width="0.45" text-anchor="middle">21-22</text>
<text x="2420.90" y="1396.80" font-size="24.20" fill="#4D4D4D" stroke="#4D4D4D" stroke-width="0.45" text-anchor="middle">22-23</text>
<text x="2665.00" y="1396.80" font-size="24.20" fill="#4D4D4D" stroke="#4D4D4D" stroke-width="0.45" text-anchor="middle">23-24</text>
<line x1="2420.90" y1="496.20" x2="2665.00" y2="435.90" stroke="#666666" stroke-width="6.8" stroke-linecap="round" opacity="0.1"/>
<line x1="2420.90" y1="435.90" x2="2665.00" y2="456.00" stroke="#D95F02" stroke-width="6.8" stroke-linecap="round" opacity="0.1"/>
<line x1="2420.90" y1="506.25" x2="2665.00" y2="506.25" stroke="#1B9E77" stroke-width="6.8" stroke-linecap="round" opacity="0.1"/>
<line x1="2420.90" y1="536.40" x2="2665.00" y2="586.65" stroke="#555555" stroke-width="6.8" stroke-linecap="round" opacity="0.1"/>
<line x1="2420.90" y1="1109.25" x2="2665.00" y2="918.30" stroke="#E0A410" stroke-width="6.8" stroke-linecap="round" opacity="1"/>
<line x1="2420.90" y1="1179.60" x2="2665.00" y2="1099.20" stroke="#A6761D" stroke-width="6.8" stroke-linecap="round" opacity="0.1"/>
<line x1="2420.90" y1="1189.65" x2="2665.00" y2="1139.40" stroke="#6A66B0" stroke-width="6.8" stroke-linecap="round" opacity="0.1"/>
<line x1="2420.90" y1="1179.60" x2="2665.00" y2="1159.50" stroke="#66A61E" stroke-width="6.8" stroke-linecap="round" opacity="0.1"/>
<circle cx="2420.90" cy="496.20" r="8" fill="#666666" opacity="0.1"/>
<circle cx="2665.00" cy="435.90" r="8" fill="#666666" opacity="0.1"/>
<circle cx="2420.90" cy="435.90" r="8" fill="#D95F02" opacity="0.1"/>
<circle cx="2665.00" cy="456.00" r="8" fill="#D95F02" opacity="0.1"/>
<circle cx="2420.90" cy="506.25" r="8" fill="#1B9E77" opacity="0.1"/>
<circle cx="2665.00" cy="506.25" r="8" fill="#1B9E77" opacity="0.1"/>
<circle cx="2420.90" cy="536.40" r="8" fill="#555555" opacity="0.1"/>
<circle cx="2665.00" cy="586.65" r="8" fill="#555555" opacity="0.1"/>
<circle cx="2420.90" cy="1109.25" r="8" fill="#E0A410" opacity="1"/>
<circle cx="2665.00" cy="918.30" r="8" fill="#E0A410" opacity="1"/>
<circle cx="2420.90" cy="1179.60" r="8" fill="#A6761D" opacity="0.1"/>
<circle cx="2665.00" cy="1099.20" r="8" fill="#A6761D" opacity="0.1"/>
<circle cx="2420.90" cy="1189.65" r="8" fill="#6A66B0" opacity="0.1"/>
<circle cx="2665.00" cy="1139.40" r="8" fill="#6A66B0" opacity="0.1"/>
<circle cx="2420.90" cy="1179.60" r="8" fill="#66A61E" opacity="0.1"/>
<circle cx="2665.00" cy="1159.50" r="8" fill="#66A61E" opacity="0.1"/>
<line x1="2667.00" y1="435.90" x2="2856.10" y2="415.70" stroke="#5B5B5B" stroke-width="2.3"/>
<rect x="2856.75" y="397.45" width="108.90" height="36.50" fill="#fff" stroke="#666666" stroke-width="1.3" rx="5.2"/>
<text x="2911.20" y="424.70" font-size="23.60" fill="#606060" stroke="#606060" stroke-width="0.3" text-anchor="middle">Carrying</text>
<line x1="2667.00" y1="456.00" x2="2853.90" y2="472.55" stroke="#C35501" stroke-width="2.3"/>
<rect x="2854.55" y="454.25" width="113.20" height="36.60" fill="#fff" stroke="#D95F02" stroke-width="1.3" rx="5.2"/>
<text x="2911.15" y="481.60" font-size="23.60" fill="#CE5A01" stroke="#CE5A01" stroke-width="0.3" text-anchor="middle">Crossing</text>
<line x1="2667.00" y1="506.25" x2="2856.10" y2="529.70" stroke="#188E6B" stroke-width="2.3"/>
<rect x="2856.75" y="511.45" width="108.90" height="36.50" fill="#fff" stroke="#1B9E77" stroke-width="1.3" rx="5.2"/>
<text x="2911.20" y="538.70" font-size="23.60" fill="#199671" stroke="#199671" stroke-width="0.3" text-anchor="middle">Creation</text>
<line x1="2667.00" y1="586.65" x2="2870.70" y2="588.60" stroke="#4C4C4C" stroke-width="2.3"/>
<rect x="2871.35" y="570.35" width="79.60" height="36.50" fill="#fff" stroke="#555555" stroke-width="1.3" rx="5.2"/>
<text x="2911.15" y="597.60" font-size="23.60" fill="#505050" stroke="#505050" stroke-width="0.3" text-anchor="middle">Shots</text>
<line x1="2667.00" y1="918.30" x2="2766.00" y2="918.50" stroke="#C9930E" stroke-width="2.3"/>
<rect x="2766.65" y="900.35" width="207.60" height="36.30" fill="#fff" stroke="#E0A410" stroke-width="1.3" rx="5.2"/>
<text x="2870.45" y="927.40" font-size="23.60" fill="#D49B0F" stroke="#D49B0F" stroke-width="0.3" text-anchor="middle">Passing Accuracy</text>
<line x1="2667.00" y1="1097.70" x2="2698.60" y2="1072.55" stroke="#956A1A" stroke-width="2.3"/>
<rect x="2699.25" y="1051.95" width="275.00" height="36.20" fill="#fff" stroke="#A6761D" stroke-width="1.3" rx="5.2"/>
<text x="2836.75" y="1078.90" font-size="23.60" fill="#9D701B" stroke="#9D701B" stroke-width="0.3" text-anchor="middle">Possession Involvement</text>
<line x1="2667.00" y1="1139.40" x2="2776.30" y2="1127.15" stroke="#5F5B9E" stroke-width="2.3"/>
<rect x="2776.95" y="1109.05" width="197.30" height="36.20" fill="#fff" stroke="#6A66B0" stroke-width="1.3" rx="5.2"/>
<text x="2875.60" y="1136.00" font-size="23.60" fill="#6460A7" stroke="#6460A7" stroke-width="0.3" text-anchor="middle">Defensive Action</text>
<line x1="2667.00" y1="1159.50" x2="2776.30" y2="1184.25" stroke="#5B951B" stroke-width="2.3"/>
<rect x="2776.95" y="1166.15" width="197.30" height="36.20" fill="#fff" stroke="#66A61E" stroke-width="1.3" rx="5.2"/>
<text x="2875.60" y="1193.10" font-size="23.60" fill="#609D1C" stroke="#609D1C" stroke-width="0.3" text-anchor="middle">Long Distribution</text>
<line x1="2151.80" y1="1360.50" x2="2983.30" y2="1360.50" stroke="#000" stroke-width="3.3"/>
<text x="2522.94" y="1483.01" font-size="37.10" textLength="215.43" lengthAdjust="spacingAndGlyphs" fill="#000" stroke="#000" stroke-width="0.78">Similar Players</text>
<rect x="2309.30" y="1528.40" width="582.35" height="41.60" fill="#FC7C86" stroke="#000" stroke-width="3"/>
<rect x="2854.30" y="1532.45" width="75.90" height="33.50" fill="#fff" stroke="#000" stroke-width="1.3" rx="5.2"/>
<text x="2892.25" y="1556.90" font-size="19.50" fill="#000" stroke="#000" stroke-width="0.35" text-anchor="middle">99.6%</text>
<text x="2107.99" y="1544.08" font-size="26.96" textLength="153.38" lengthAdjust="spacingAndGlyphs" fill="#000" stroke="#000" stroke-width="0.65">Malick Fofana</text>
<text x="2193.68" y="1573.88" font-size="26.96" textLength="68.97" lengthAdjust="spacingAndGlyphs" fill="#000" stroke="#000" stroke-width="0.65">(Lyon)</text>
<rect x="2309.30" y="1612.75" width="565.35" height="41.60" fill="#FC8888" stroke="#000" stroke-width="3"/>
<rect x="2837.30" y="1616.80" width="75.90" height="33.50" fill="#fff" stroke="#000" stroke-width="1.3" rx="5.2"/>
<text x="2875.25" y="1641.25" font-size="19.50" fill="#000" stroke="#000" stroke-width="0.35" text-anchor="middle">96.7%</text>
<text x="2132.27" y="1628.43" font-size="26.96" textLength="129.76" lengthAdjust="spacingAndGlyphs" fill="#000" stroke="#000" stroke-width="0.65">Ismaila Sarr</text>
<text x="2145.76" y="1658.23" font-size="26.96" textLength="116.91" lengthAdjust="spacingAndGlyphs" fill="#000" stroke="#000" stroke-width="0.65">(Marseille)</text>
<rect x="2309.30" y="1697.10" width="563.59" height="41.60" fill="#FC8A89" stroke="#000" stroke-width="3"/>
<rect x="2835.54" y="1701.15" width="75.90" height="33.50" fill="#fff" stroke="#000" stroke-width="1.3" rx="5.2"/>
<text x="2873.49" y="1725.60" font-size="19.50" fill="#000" stroke="#000" stroke-width="0.35" text-anchor="middle">96.4%</text>
<text x="2096.82" y="1712.78" font-size="26.96" textLength="166.42" lengthAdjust="spacingAndGlyphs" fill="#000" stroke="#000" stroke-width="0.65">Gustav Isaksen</text>
<text x="2187.28" y="1742.58" font-size="26.96" textLength="75.42" lengthAdjust="spacingAndGlyphs" fill="#000" stroke="#000" stroke-width="0.65">(Lazio)</text>
<rect x="2309.30" y="1781.45" width="557.14" height="41.60" fill="#FC908A" stroke="#000" stroke-width="3"/>
<rect x="2829.09" y="1785.50" width="75.90" height="33.50" fill="#fff" stroke="#000" stroke-width="1.3" rx="5.2"/>
<text x="2867.04" y="1809.95" font-size="19.50" fill="#000" stroke="#000" stroke-width="0.35" text-anchor="middle">95.3%</text>
<text x="2109.13" y="1797.13" font-size="26.96" textLength="152.20" lengthAdjust="spacingAndGlyphs" fill="#000" stroke="#000" stroke-width="0.65">Diego Moreira</text>
<text x="2193.68" y="1826.93" font-size="26.96" textLength="68.97" lengthAdjust="spacingAndGlyphs" fill="#000" stroke="#000" stroke-width="0.65">(Lyon)</text>
<rect x="2309.30" y="1865.80" width="555.38" height="41.60" fill="#FC928A" stroke="#000" stroke-width="3"/>
<rect x="2835.68" y="1869.85" width="59.20" height="33.50" fill="#fff" stroke="#000" stroke-width="1.3" rx="5.2"/>
<text x="2865.28" y="1894.30" font-size="19.50" fill="#000" stroke="#000" stroke-width="0.35" text-anchor="middle">95%</text>
<text x="2189.04" y="1881.48" font-size="26.96" textLength="73.60" lengthAdjust="spacingAndGlyphs" fill="#000" stroke="#000" stroke-width="0.65">Lazaro</text>
<text x="2161.77" y="1911.28" font-size="26.96" textLength="100.92" lengthAdjust="spacingAndGlyphs" fill="#000" stroke="#000" stroke-width="0.65">(Almeria)</text>
<text x="60.58" y="1989.38" font-size="26.11" textLength="352.16" lengthAdjust="spacingAndGlyphs" fill="#000" stroke="#000" stroke-width="0.64" font-style="italic">Source: Understat, Opta via FBref</text>
<text x="60.52" y="2029.48" font-size="26.11" textLength="188.67" lengthAdjust="spacingAndGlyphs" fill="#000" stroke="#000" stroke-width="0.64" font-style="italic">Notes: Created by</text>
<text x="255.61" y="2029.48" font-size="26.11" textLength="218.27" lengthAdjust="spacingAndGlyphs" fill="#000" stroke="#000" stroke-width="0.64" font-style="italic">@macro_football on</text>
<text x="480.64" y="2029.48" font-size="26.11" textLength="333.05" lengthAdjust="spacingAndGlyphs" fill="#000" stroke="#000" stroke-width="0.64" font-style="italic">2024-06-01. All percentiles and</text>
<text x="820.39" y="2029.48" font-size="26.11" textLength="266.71" lengthAdjust="spacingAndGlyphs" fill="#000" stroke="#000" stroke-width="0.64" font-style="italic">metrics are relative to all</text>
<text x="1093.92" y="2029.48" font-size="26.11" textLength="203.48" lengthAdjust="spacingAndGlyphs" fill="#000" stroke="#000" stroke-width="0.64" font-style="italic">players in the top 5</text>
<text x="1304.11" y="2029.48" font-size="26.11" textLength="198.63" lengthAdjust="spacingAndGlyphs" fill="#000" stroke="#000" stroke-width="0.64" font-style="italic">European leagues.</text>
<text x="1509.30" y="2029.48" font-size="26.11" textLength="228.87" lengthAdjust="spacingAndGlyphs" fill="#000" stroke="#000" stroke-width="0.64" font-style="italic">Overall is the player's</text>
<text x="1744.83" y="2029.48" font-size="26.11" textLength="241.65" lengthAdjust="spacingAndGlyphs" fill="#000" stroke="#000" stroke-width="0.64" font-style="italic">expected points above</text>
<text x="1993.20" y="2029.48" font-size="26.11" textLength="334.57" lengthAdjust="spacingAndGlyphs" fill="#000" stroke="#000" stroke-width="0.64" font-style="italic">replacement (xPAR) percentile.</text>
<text x="2334.50" y="2029.48" font-size="26.11" textLength="305.55" lengthAdjust="spacingAndGlyphs" fill="#000" stroke="#000" stroke-width="0.64" font-style="italic">Offense and Defense Impact</text>
<text x="2646.71" y="2029.48" font-size="26.11" textLength="305.65" lengthAdjust="spacingAndGlyphs" fill="#000" stroke="#000" stroke-width="0.64" font-style="italic">percentiles and Z-Scores are</text>
<text x="60.12" y="2069.28" font-size="26.11" textLength="328.58" lengthAdjust="spacingAndGlyphs" fill="#000" stroke="#000" stroke-width="0.64" font-style="italic">the player's isolated impact on</text>
<text x="395.44" y="2069.28" font-size="26.11" textLength="301.88" lengthAdjust="spacingAndGlyphs" fill="#000" stroke="#000" stroke-width="0.64" font-style="italic">xGF and xGA (or GF and GA)</text>
<text x="703.70" y="2069.28" font-size="26.11" textLength="72.76" lengthAdjust="spacingAndGlyphs" fill="#000" stroke="#000" stroke-width="0.64" font-style="italic">per 90,</text>
<text x="782.92" y="2069.28" font-size="26.11" textLength="283.85" lengthAdjust="spacingAndGlyphs" fill="#000" stroke="#000" stroke-width="0.64" font-style="italic">controlling for teammates,</text>
<text x="1073.62" y="2069.28" font-size="26.11" textLength="203.78" lengthAdjust="spacingAndGlyphs" fill="#000" stroke="#000" stroke-width="0.64" font-style="italic">opposition players,</text>
<text x="1284.21" y="2069.28" font-size="26.11" textLength="182.68" lengthAdjust="spacingAndGlyphs" fill="#000" stroke="#000" stroke-width="0.64" font-style="italic">managers, score,</text>
<text x="1473.46" y="2069.28" font-size="26.11" textLength="166.42" lengthAdjust="spacingAndGlyphs" fill="#000" stroke="#000" stroke-width="0.64" font-style="italic">situation, etc...,</text>
<text x="1646.76" y="2069.28" font-size="26.11" textLength="183.15" lengthAdjust="spacingAndGlyphs" fill="#000" stroke="#000" stroke-width="0.64" font-style="italic">scaled relative to</text>
<text x="1836.71" y="2069.28" font-size="26.11" textLength="252.71" lengthAdjust="spacingAndGlyphs" fill="#000" stroke="#000" stroke-width="0.64" font-style="italic">European Top 5 League</text>
<text x="2095.98" y="2069.28" font-size="26.11" textLength="195.55" lengthAdjust="spacingAndGlyphs" fill="#000" stroke="#000" stroke-width="0.64" font-style="italic">average. Finishing</text>
<text x="2298.17" y="2069.28" font-size="26.11" textLength="198.41" lengthAdjust="spacingAndGlyphs" fill="#000" stroke="#000" stroke-width="0.64" font-style="italic">(or Saving) Impact</text>
<text x="2503.31" y="2069.28" font-size="26.11" textLength="264.56" lengthAdjust="spacingAndGlyphs" fill="#000" stroke="#000" stroke-width="0.64" font-style="italic">percentiles and Z-Scores</text>
<text x="2774.48" y="2069.28" font-size="26.11" textLength="161.59" lengthAdjust="spacingAndGlyphs" fill="#000" stroke="#000" stroke-width="0.64" font-style="italic">are the player's</text>
<text x="60.86" y="2109.08" font-size="26.11" textLength="199.10" lengthAdjust="spacingAndGlyphs" fill="#000" stroke="#000" stroke-width="0.64" font-style="italic">impact on shot xG,</text>
<text x="266.60" y="2109.08" font-size="26.11" textLength="213.54" lengthAdjust="spacingAndGlyphs" fill="#000" stroke="#000" stroke-width="0.64" font-style="italic">relative to European</text>
<text x="486.78" y="2109.08" font-size="26.11" textLength="243.88" lengthAdjust="spacingAndGlyphs" fill="#000" stroke="#000" stroke-width="0.64" font-style="italic">Top 5 League average.</text>
<text x="737.27" y="2109.08" font-size="26.11" textLength="197.07" lengthAdjust="spacingAndGlyphs" fill="#000" stroke="#000" stroke-width="0.64" font-style="italic">Shot (or xG) Share</text>
<text x="940.86" y="2109.08" font-size="26.11" textLength="192.54" lengthAdjust="spacingAndGlyphs" fill="#000" stroke="#000" stroke-width="0.64" font-style="italic">is the share of the</text>
<text x="1140.12" y="2109.08" font-size="26.11" textLength="218.24" lengthAdjust="spacingAndGlyphs" fill="#000" stroke="#000" stroke-width="0.64" font-style="italic">team's shots (or xG)</text>
<text x="1365.13" y="2109.08" font-size="26.11" textLength="153.47" lengthAdjust="spacingAndGlyphs" fill="#000" stroke="#000" stroke-width="0.64" font-style="italic">that the player</text>
<text x="1525.33" y="2109.08" font-size="26.11" textLength="254.64" lengthAdjust="spacingAndGlyphs" fill="#000" stroke="#000" stroke-width="0.64" font-style="italic">takes when on the field.</text>
<text x="1786.72" y="2109.08" font-size="26.11" textLength="266.56" lengthAdjust="spacingAndGlyphs" fill="#000" stroke="#000" stroke-width="0.64" font-style="italic">Usage is the share of the</text>
<text x="2059.93" y="2109.08" font-size="26.11" textLength="196.16" lengthAdjust="spacingAndGlyphs" fill="#000" stroke="#000" stroke-width="0.64" font-style="italic">team's xG that the</text>
<text x="2262.83" y="2109.08" font-size="26.11" textLength="257.88" lengthAdjust="spacingAndGlyphs" fill="#000" stroke="#000" stroke-width="0.64" font-style="italic">player is responsible for</text>
<text x="2527.51" y="2109.08" font-size="26.11" textLength="220.70" lengthAdjust="spacingAndGlyphs" fill="#000" stroke="#000" stroke-width="0.64" font-style="italic">when on the field via</text>
<text x="2754.93" y="2109.08" font-size="26.11" textLength="206.49" lengthAdjust="spacingAndGlyphs" fill="#000" stroke="#000" stroke-width="0.64" font-style="italic">either shots or shot</text>
<text x="60.67" y="2149.28" font-size="26.11" textLength="192.91" lengthAdjust="spacingAndGlyphs" fill="#000" stroke="#000" stroke-width="0.64" font-style="italic">assists. Individual</text>
<text x="260.41" y="2149.28" font-size="26.11" textLength="208.35" lengthAdjust="spacingAndGlyphs" fill="#000" stroke="#000" stroke-width="0.64" font-style="italic">characteristics (i.e.</text>
<text x="475.72" y="2149.28" font-size="26.11" textLength="242.05" lengthAdjust="spacingAndGlyphs" fill="#000" stroke="#000" stroke-width="0.64" font-style="italic">dribbling and creating)</text>
<text x="724.59" y="2149.28" font-size="26.11" textLength="157.98" lengthAdjust="spacingAndGlyphs" fill="#000" stroke="#000" stroke-width="0.64" font-style="italic">are based on a</text>
<text x="889.12" y="2149.28" font-size="26.11" textLength="291.75" lengthAdjust="spacingAndGlyphs" fill="#000" stroke="#000" stroke-width="0.64" font-style="italic">dimensionality reduction of</text>
<text x="1187.74" y="2149.28" font-size="26.11" textLength="140.40" lengthAdjust="spacingAndGlyphs" fill="#000" stroke="#000" stroke-width="0.64" font-style="italic">each player's</text>
<text x="1334.77" y="2149.28" font-size="26.11" textLength="217.23" lengthAdjust="spacingAndGlyphs" fill="#000" stroke="#000" stroke-width="0.64" font-style="italic">micro-statistics (i.e.</text>
<text x="1559.06" y="2149.28" font-size="26.11" textLength="260.42" lengthAdjust="spacingAndGlyphs" fill="#000" stroke="#000" stroke-width="0.64" font-style="italic">short pass attempts and</text>
<text x="1826.25" y="2149.28" font-size="26.11" textLength="229.96" lengthAdjust="spacingAndGlyphs" fill="#000" stroke="#000" stroke-width="0.64" font-style="italic">interceptions). Player</text>
<text x="2063.03" y="2149.28" font-size="26.11" textLength="233.88" lengthAdjust="spacingAndGlyphs" fill="#000" stroke="#000" stroke-width="0.64" font-style="italic">types (i.e. ball-playing</text>
<text x="2303.64" y="2149.28" font-size="26.11" textLength="269.24" lengthAdjust="spacingAndGlyphs" fill="#000" stroke="#000" stroke-width="0.64" font-style="italic">defender) are based on a</text>
<text x="2579.52" y="2149.28" font-size="26.11" textLength="228.27" lengthAdjust="spacingAndGlyphs" fill="#000" stroke="#000" stroke-width="0.64" font-style="italic">clustering analysis of</text>
<text x="2814.65" y="2149.28" font-size="26.11" textLength="145.01" lengthAdjust="spacingAndGlyphs" fill="#000" stroke="#000" stroke-width="0.64" font-style="italic">every player's</text>
<text x="60.85" y="2189.08" font-size="26.11" textLength="275.44" lengthAdjust="spacingAndGlyphs" fill="#000" stroke="#000" stroke-width="0.64" font-style="italic">individual characteristics.</text>
<text x="343.19" y="2189.08" font-size="26.11" textLength="249.79" lengthAdjust="spacingAndGlyphs" fill="#000" stroke="#000" stroke-width="0.64" font-style="italic">Player similarity scores</text>
<text x="599.78" y="2189.08" font-size="26.11" textLength="179.92" lengthAdjust="spacingAndGlyphs" fill="#000" stroke="#000" stroke-width="0.64" font-style="italic">are based on the</text>
<text x="786.36" y="2189.08" font-size="26.11" textLength="272.19" lengthAdjust="spacingAndGlyphs" fill="#000" stroke="#000" stroke-width="0.64" font-style="italic">same clustering analysis.</text>
</svg>
</body></html>
